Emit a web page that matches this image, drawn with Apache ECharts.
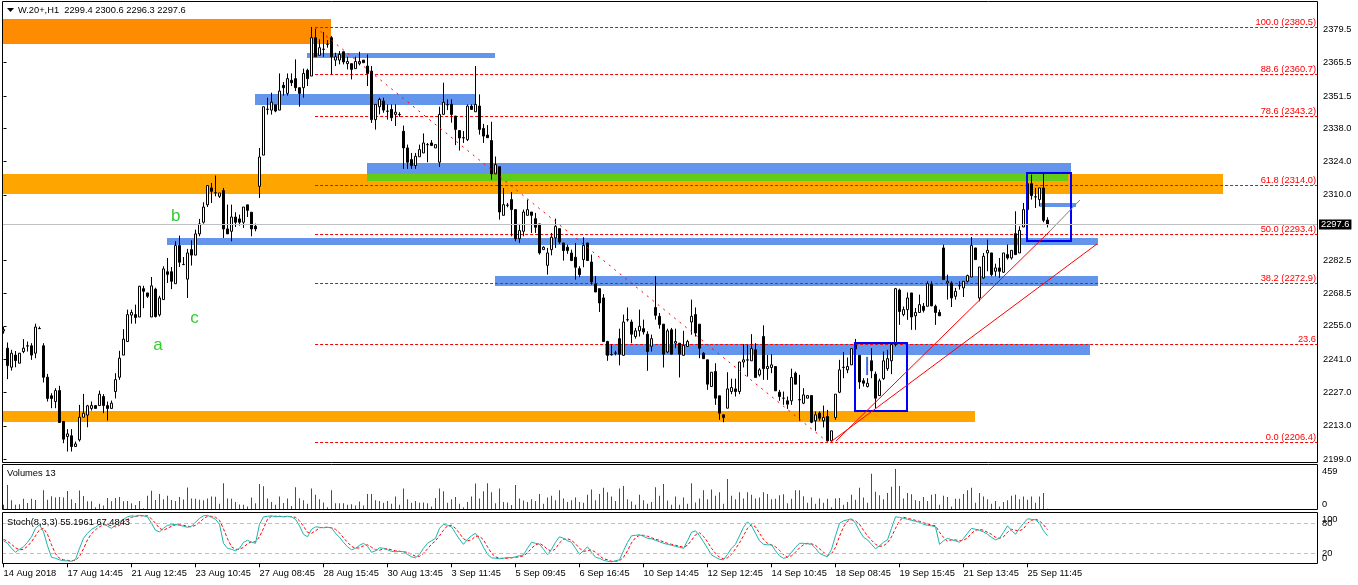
<!DOCTYPE html>
<html><head><meta charset="utf-8">
<script src="https://cdn.jsdelivr.net/npm/echarts@6.0.0/dist/echarts.min.js"></script>
<style>html,body{margin:0;padding:0;background:#fff}#c{width:1358px;height:585px}</style>
</head><body><div id="c"></div>
<script>
// ---------------- DATA ----------------
const symbolName = 'W.20+,H1';
const opens = [
2252.8,2245.6,2237.6,2242.7,2239.3,2244.2,2246.5,2246.6,2243.5,2253.9,
2246.6,2233.4,2225.6,2223.2,2227.8,2214.8,2208.5,2208.8,2204.3,2207.1,
2216.6,2217.5,2220.3,2221.5,2221.5,2225.3,2221.5,2220.3,2227.4,2233.4,
2242.7,2248.4,2259.5,2259.7,2258.7,2270.6,2268.8,2258.7,2270.4,2259.6,
2266.0,2277.7,2277.7,2272.7,2288.7,2280.7,2274.6,2287.0,2284.7,2293.6,
2298.5,2305.8,2312.9,2310.8,2309.4,2311.8,2295.7,2294.7,2300.7,2299.9,
2298.5,2305.8,2302.7,2296.8,2313.6,2326.7,2345.9,2345.6,2347.8,2345.6,
2356.0,2352.6,2358.1,2358.8,2355.0,2355.0,2362.3,2359.9,2376.0,2368.6,
2371.1,2373.2,2376.0,2366.6,2366.6,2370.1,2365.1,2365.1,2363.0,2365.1,
2366.6,2364.1,2362.0,2341.6,2347.0,2349.4,2345.2,2345.9,2343.8,2343.7,
2336.7,2329.7,2324.8,2322.3,2326.0,2327.6,2331.1,2331.8,2329.7,2323.7,
2343.8,2347.8,2348.0,2343.1,2337.0,2334.0,2333.2,2347.3,2344.9,2347.3,
2337.9,2335.1,2332.8,2318.8,2321.8,2301.4,2305.6,2308.0,2303.8,2291.6,
2294.7,2301.4,2302.8,2300.0,2297.8,2287.0,2280.4,2287.0,2291.9,2295.8,
2289.8,2288.0,2285.6,2283.8,2279.0,2282.8,2289.8,2281.8,2272.6,2270.6,
2266.7,2248.4,2242.8,2243.5,2249.6,2242.6,2257.5,2256.6,2250.5,2252.9,
2253.8,2251.5,2246.4,2262.7,2259.0,2255.7,2244.0,2253.3,2247.7,2247.7,
2242.6,2246.3,2256.6,2259.7,2255.7,2243.5,2240.7,2229.5,2235.8,2225.6,
2217.6,2220.4,2227.4,2228.5,2227.4,2239.8,2240.6,2240.3,2244.9,2234.4,
2250.5,2237.0,2237.5,2237.9,2227.1,2224.6,2223.5,2223.5,2235.1,2223.9,
2222.5,2224.6,2225.7,2215.1,2218.3,2215.1,2216.9,2206.7,2216.5,2227.1,
2237.5,2236.5,2238.6,2245.3,2242.6,2231.9,2229.5,2240.3,2234.7,2225.7,
2232.8,2237.0,2240.3,2247.1,2270.0,2259.7,2261.8,2268.8,2259.2,2260.6,
2263.2,2263.2,2272.3,2263.2,2260.6,2287.7,2273.0,2273.0,2267.4,2271.8,
2270.9,2273.7,2275.5,2287.7,2266.7,2275.1,2285.6,2285.6,2277.9,2279.3,
2277.5,2284.9,2283.5,2293.7,2285.6,2296.5,2303.8,2314.7,2309.1,2308.0,
2312.9,2299.4];
const highs = [
2254.5,2248.0,2244.9,2244.4,2243.5,2249.4,2248.4,2247.7,2255.9,2254.7,
2247.7,2234.8,2226.7,2228.8,2229.8,2214.8,2211.6,2211.6,2206.4,2221.8,
2226.4,2221.8,2223.2,2221.5,2227.8,2226.3,2223.2,2223.6,2235.1,2244.5,
2253.6,2261.8,2261.8,2263.9,2271.8,2271.8,2268.8,2275.5,2271.0,2267.6,
2280.0,2283.5,2279.7,2290.5,2292.9,2283.9,2287.3,2290.9,2295.4,2299.9,
2306.9,2313.9,2315.0,2318.1,2310.8,2312.9,2305.9,2305.9,2302.7,2301.7,
2304.9,2305.8,2302.7,2297.9,2329.7,2347.0,2350.8,2352.9,2347.8,2361.0,
2357.4,2361.0,2361.0,2366.9,2355.0,2363.0,2363.0,2380.5,2379.8,2375.3,
2378.4,2375.0,2376.7,2369.7,2370.4,2370.1,2368.0,2365.1,2368.0,2370.1,
2366.6,2369.0,2364.1,2348.0,2350.8,2350.8,2348.0,2348.0,2348.0,2344.7,
2339.1,2331.1,2327.6,2327.6,2331.1,2335.8,2331.8,2333.0,2331.1,2347.0,
2357.1,2350.1,2350.1,2343.1,2337.0,2336.8,2348.0,2348.0,2364.1,2352.2,
2339.8,2339.3,2340.7,2326.1,2321.8,2312.9,2306.6,2311.2,2303.8,2297.8,
2303.8,2308.0,2302.8,2302.4,2297.8,2288.4,2287.7,2294.0,2300.0,2295.8,
2289.8,2289.1,2287.0,2289.8,2280.0,2292.2,2289.8,2284.9,2275.8,2270.6,
2268.3,2248.7,2247.3,2244.5,2253.8,2259.7,2262.7,2257.6,2254.1,2261.8,
2257.6,2252.7,2251.3,2275.8,2260.4,2255.7,2253.8,2254.1,2253.8,2247.7,
2252.9,2249.1,2266.0,2262.7,2255.7,2244.0,2240.7,2235.5,2239.3,2225.6,
2217.6,2235.5,2232.8,2232.8,2239.8,2247.3,2247.0,2251.5,2247.7,2237.2,
2255.2,2242.8,2243.1,2237.9,2228.1,2227.4,2225.3,2237.0,2235.8,2234.4,
2228.8,2225.7,2225.7,2219.0,2219.0,2221.5,2219.7,2210.9,2226.3,2240.7,
2244.0,2241.7,2245.4,2249.5,2242.6,2233.0,2233.0,2245.6,2235.8,2232.8,
2244.2,2244.9,2248.2,2270.9,2270.6,2263.1,2269.0,2268.8,2262.5,2268.1,
2264.6,2273.7,2273.7,2263.9,2261.8,2289.1,2276.5,2273.7,2270.9,2273.7,
2273.7,2276.5,2292.3,2287.7,2279.7,2285.6,2291.2,2285.6,2281.1,2283.5,
2285.6,2289.1,2286.7,2303.1,2296.8,2306.6,2319.2,2318.5,2312.9,2312.9,
2319.0,2300.6];
const lows = [
2251.7,2232.6,2236.2,2237.6,2239.3,2243.5,2244.2,2240.7,2241.4,2253.7,
2231.2,2223.2,2220.4,2220.4,2214.4,2205.7,2202.2,2202.2,2204.3,2206.4,
2216.6,2212.4,2219.4,2220.3,2221.5,2218.3,2215.2,2220.3,2224.5,2232.3,
2242.7,2248.4,2255.9,2255.9,2258.7,2262.4,2266.7,2258.7,2258.5,2258.9,
2266.0,2273.0,2270.4,2272.7,2279.7,2280.5,2266.7,2280.3,2284.7,2292.6,
2297.9,2304.9,2306.6,2309.4,2308.7,2291.9,2293.6,2290.5,2296.5,2297.1,
2296.1,2300.7,2292.6,2294.7,2308.7,2326.7,2343.7,2343.7,2344.7,2345.6,
2351.7,2351.7,2355.7,2353.6,2347.0,2350.8,2355.7,2359.9,2368.0,2368.6,
2368.0,2371.8,2360.6,2364.1,2364.8,2364.8,2362.7,2358.5,2363.0,2364.4,
2365.5,2355.7,2340.2,2337.4,2343.8,2344.5,2341.6,2341.0,2338.9,2342.8,
2320.9,2320.9,2320.9,2320.9,2326.0,2327.6,2323.7,2330.7,2329.7,2321.7,
2343.8,2345.6,2340.3,2330.9,2328.6,2331.8,2332.6,2345.9,2344.9,2335.3,
2331.8,2334.0,2316.4,2318.8,2299.6,2301.4,2304.8,2292.6,2290.5,2289.8,
2292.6,2301.4,2294.0,2294.0,2284.9,2287.0,2276.5,2284.6,2287.7,2289.4,
2282.4,2285.2,2282.4,2274.4,2275.4,2279.6,2282.4,2272.3,2269.2,2260.8,
2248.4,2240.3,2242.6,2242.6,2238.4,2242.6,2256.8,2247.7,2249.6,2250.5,
2251.3,2236.1,2244.2,2257.6,2253.8,2237.5,2243.5,2243.1,2245.6,2233.3,
2242.6,2246.3,2251.3,2250.5,2241.4,2241.2,2228.1,2229.5,2221.8,2215.5,
2214.5,2220.4,2226.3,2225.3,2226.3,2237.5,2233.7,2240.3,2233.3,2233.7,
2232.3,2232.3,2235.1,2227.7,2223.5,2221.8,2220.1,2221.8,2230.5,2215.1,
2222.1,2224.6,2214.1,2210.9,2215.1,2212.3,2206.4,2206.4,2215.5,2226.7,
2233.0,2235.1,2238.6,2243.0,2228.5,2229.5,2229.1,2233.0,2220.4,2225.7,
2232.3,2236.1,2234.7,2246.3,2255.4,2259.0,2257.5,2253.3,2253.3,2260.6,
2260.6,2263.2,2263.2,2255.4,2259.2,2274.4,2266.0,2262.9,2266.0,2270.2,
2267.1,2273.2,2275.5,2282.8,2265.3,2274.7,2277.9,2275.8,2275.8,2275.1,
2277.2,2282.8,2282.8,2284.9,2285.6,2296.5,2303.8,2308.0,2304.5,2305.2,
2298.5,2296.3];
const closes = [
2253.4,2238.3,2243.5,2240.4,2243.5,2245.6,2246.6,2242.7,2254.5,2253.8,
2233.4,2224.5,2224.5,2227.8,2214.4,2207.4,2209.6,2204.3,2205.4,2216.6,
2218.3,2221.4,2221.5,2220.3,2226.3,2221.5,2220.3,2222.5,2232.4,2241.4,
2249.4,2259.7,2260.6,2258.5,2271.6,2269.5,2267.4,2271.8,2258.9,2266.7,
2278.9,2276.6,2273.7,2288.7,2281.7,2280.8,2285.6,2284.7,2293.6,2297.8,
2304.9,2313.9,2311.5,2310.9,2310.8,2295.7,2293.6,2300.7,2298.5,2298.5,
2304.9,2303.5,2295.7,2295.7,2325.9,2347.0,2346.0,2348.9,2345.2,2353.6,
2355.0,2358.8,2357.1,2355.0,2352.6,2361.0,2358.8,2376.0,2368.0,2371.8,
2371.2,2373.3,2368.0,2368.0,2369.0,2365.8,2366.0,2362.7,2366.0,2366.0,
2365.5,2361.0,2341.6,2348.0,2350.1,2345.6,2345.1,2342.4,2344.7,2343.8,
2329.7,2323.7,2322.3,2326.2,2329.0,2331.8,2331.1,2330.7,2331.1,2343.8,
2348.9,2347.9,2343.8,2337.5,2333.9,2333.9,2347.3,2345.9,2348.0,2337.5,
2334.7,2334.0,2318.8,2322.7,2302.8,2305.9,2305.7,2303.8,2291.6,2295.0,
2302.8,2303.8,2301.4,2296.4,2285.6,2288.0,2285.6,2292.2,2296.8,2290.2,
2286.6,2286.6,2282.4,2279.6,2276.5,2288.8,2282.4,2273.4,2269.2,2264.6,
2248.4,2242.6,2242.9,2243.6,2243.1,2256.6,2257.6,2251.5,2252.9,2254.8,
2252.4,2244.2,2249.6,2259.4,2255.5,2243.1,2252.9,2243.1,2248.4,2243.1,
2246.8,2248.4,2259.0,2252.0,2245.6,2241.2,2230.5,2235.5,2224.6,2218.3,
2216.5,2228.5,2229.1,2227.4,2239.8,2240.7,2240.7,2245.4,2233.3,2236.5,
2237.0,2237.9,2238.6,2227.7,2225.3,2224.6,2222.1,2233.3,2230.5,2224.0,
2226.0,2225.7,2214.5,2217.6,2216.2,2216.5,2206.7,2210.9,2226.3,2236.5,
2237.6,2237.9,2245.4,2247.0,2231.4,2230.9,2230.9,2236.1,2224.6,2231.9,
2240.3,2241.2,2247.1,2270.6,2261.0,2261.8,2266.7,2258.7,2260.6,2263.9,
2261.5,2272.7,2263.4,2260.6,2259.2,2274.4,2273.7,2266.7,2269.5,2271.9,
2273.7,2276.1,2288.7,2282.8,2279.7,2284.2,2286.7,2276.5,2279.3,2277.9,
2285.6,2283.5,2286.7,2284.9,2295.1,2303.8,2314.7,2309.7,2309.2,2312.9,
2299.3,2297.6];
const volumes = [
60,279,108,59,63,127,78,127,112,8,
222,116,154,139,146,140,214,120,78,218,
158,97,97,32,70,51,135,97,135,146,
97,100,75,55,100,20,160,215,112,180,
120,160,112,102,145,118,252,128,125,115,
110,130,150,148,70,300,130,125,90,62,
60,40,140,75,290,265,130,90,60,150,
78,130,45,256,132,110,70,241,170,120,
85,30,222,75,75,75,60,65,50,95,
50,180,180,110,100,80,100,70,150,60,
240,120,82,100,80,85,75,40,135,241,
210,80,120,145,70,30,90,150,298,130,
210,300,200,75,240,90,85,55,280,130,
105,90,120,100,180,70,140,160,110,220,
130,90,110,140,90,80,170,230,110,180,
250,200,150,100,240,270,120,95,60,170,
110,70,90,255,160,290,105,60,150,60,
140,70,300,85,130,220,120,230,160,200,
70,347,160,120,200,130,200,170,130,140,
200,180,120,125,165,175,75,125,220,220,
155,80,140,70,130,80,125,30,130,135,
60,90,170,115,250,140,80,405,205,165,
120,190,260,459,268,130,190,175,110,100,
145,100,170,180,60,160,145,40,125,125,
180,220,250,80,190,150,120,70,100,40,
90,110,160,170,120,150,115,150,80,150,
190,13];
const stochK = [
45,40,30,22,28,33,42,53,70,77,
63,35,12,10,7,5,5,4,8,30,
50,60,68,72,78,80,74,70,76,83,
88,93,95,94,96,95,93,80,66,63,
70,76,77,78,76,74,72,74,82,90,
95,96,92,88,78,40,30,28,25,30,
42,46,42,40,78,93,94,95,93,94,
93,94,93,88,75,58,53,68,73,72,
71,72,71,60,52,42,33,27,30,36,
40,34,22,25,31,30,27,24,23,24,
23,18,13,11,18,30,40,45,50,70,
78,76,73,60,48,38,48,55,60,48,
32,18,11,10,9,10,12,11,13,15,
17,30,42,40,38,28,17,28,42,53,
50,45,42,30,18,25,33,22,12,10,
6,4,3,5,7,25,42,55,56,57,
54,50,49,46,43,40,38,36,34,32,
30,45,62,65,55,43,30,17,12,8,
7,18,30,38,55,72,83,75,60,45,
38,37,37,25,15,10,12,22,32,40,
40,39,38,30,20,16,13,28,55,80,
85,87,89,80,65,52,47,38,29,35,
42,47,70,93,92,90,88,86,84,82,
78,76,75,73,38,45,50,47,45,42,
50,60,70,68,66,63,58,52,47,50,
62,75,66,58,70,80,89,88,87,80,
65,55.1961];
const stochD = [
48,44,38,31,27,28,34,43,55,67,
70,58,37,19,10,7,6,5,6,14,
29,47,59,67,73,77,77,75,73,76,
82,88,92,94,95,95,95,89,80,70,
66,70,74,77,77,76,74,73,76,82,
89,94,94,92,86,69,49,33,28,28,
32,39,43,43,53,70,88,94,94,94,
93,94,93,92,85,74,62,60,65,71,
72,72,71,68,61,51,42,34,30,31,
35,37,32,27,26,29,29,27,25,24,
23,22,18,14,14,20,29,38,45,55,
66,75,76,70,60,49,45,47,54,54,
47,33,20,13,10,10,10,11,12,13,
15,21,30,37,40,35,28,24,29,41,
48,49,46,39,30,24,25,27,22,15,
9,7,4,4,5,12,25,41,51,56,
56,54,51,48,46,43,40,38,36,34,
32,36,46,57,61,54,43,30,20,12,
9,11,18,29,41,55,70,77,73,60,
48,40,37,33,26,17,12,15,22,31,
37,40,39,36,29,22,16,19,32,54,
73,84,87,85,78,66,55,46,38,34,
35,41,53,70,85,92,90,88,86,84,
81,79,76,75,62,52,44,47,47,45,
46,51,60,66,68,66,62,58,52,50,
53,62,68,66,65,69,80,86,88,85,
77,67.4843];
const stochParams = '8,3,3';

const tickBars = [0,16,32,48,64,80,96,112,128,144,160,176,192,208,224,240,256];
const tickLabels = ['14 Aug 2018','17 Aug 14:45','21 Aug 12:45','23 Aug 10:45','27 Aug 08:45','28 Aug 15:45','30 Aug 13:45','3 Sep 11:45','5 Sep 09:45','6 Sep 16:45','10 Sep 14:45','12 Sep 12:45','14 Sep 10:45','18 Sep 08:45','19 Sep 15:45','21 Sep 13:45','25 Sep 11:45'];
const priceTicks = [2379.5,2365.5,2351.5,2338.0,2324.0,2310.0,2282.5,2268.5,2255.0,2241.0,2227.0,2213.0,2199.0];
const volumeTicks = [0,459];
const stochEdgeTicks = [0,100];
const stochLevelTicks = [20,80];

// Fibonacci retracement
const fibPrices = [2380.5,2360.7,2343.2,2314.0,2293.4,2272.9,2247.5,2206.4];
const fibTexts = ['100.0 (2380.5)','88.6 (2360.7)','78.6 (2343.2)','61.8 (2314.0)','50.0 (2293.4)','38.2 (2272.9)','23.6','0.0 (2206.4)'];
const fibStartBar = 77.9;

// Zones: bar start, bar end, price top, price bottom, kind
const zoneStart  = [-0.375,-0.375,-0.375,75.8,62.9,90.8,90.8,40.9,122.9,150.4,259.1];
const zoneEnd    = [81.8,304.8,242.9,122.9,117.8,266.9,266.1,273.6,273.6,271.6,268.1];
const zoneTop    = [2383.9,2318.8,2219.35,2369.45,2352.4,2323.5,2318.8,2291.8,2275.9,2247.5,2306.7];
const zoneBottom = [2373.4,2310.4,2214.7,2367.5,2347.7,2318.8,2316.0,2288.9,2271.85,2242.75,2304.8];
const zoneKind   = ['dark','orange','orange','blue','blue','blue','green','blue','blue','blue','blue'];

// Outlined boxes: bar start, bar end, price top, price bottom
const boxStart = [212.9,255.9];
const boxEnd   = [225.9,266.9];
const boxTop   = [2247.7,2319.3];
const boxBottom= [2219.35,2290.6];

// Lines: x1 bar, p1, x2 bar, p2, kind
const lineX1 = [77.9,208.1,207.1,261.6,215.9];
const lineP1 = [2380.5,2206.6,2206.6,2294.8,2242.0];
const lineX2 = [205.9,261.6,273.4,269.1,215.9];
const lineP2 = [2206.4,2294.8,2289.4,2307.8,2234.3];
const lineKind = ['fibdiag','red','red','gray','blue'];

// Wave labels
const waveText = ['b','c','a'];
const waveBar  = [43.05,47.75,38.6];
const wavePrice= [2301.1,2258.3,2246.9];

// ---------------- STYLE / LAYOUT ----------------
const FONT = 'Liberation Sans';
const FS = 9.3;
const xMin = -0.375, xMax = 328.375;
const yMin = 2197.8, yMax = 2391.0;
const zoneColor = {dark:'#FF8C00', orange:'#FFA500', blue:'#6495ED', green:'#62CD18'};
const lineStyles = {
  fibdiag:{stroke:'#FF0000', lineWidth:1, lineDash:[2,5]},
  red:{stroke:'#FF0000', lineWidth:1},
  gray:{stroke:'#808080', lineWidth:1},
  blue:{stroke:'#4169E1', lineWidth:2}
};
const last = closes.length - 1;

const chart = echarts.init(document.getElementById('c'));

const xAxes = [0,1,2].map(g => ({
  type:'value', gridIndex:g, min:xMin, max:xMax, show: g === 2,
  axisLine:{show:false},
  axisTick:{show:true, customValues:tickBars, length:4, lineStyle:{color:'#000'}},
  axisLabel:{show:true, customValues:tickBars, align:'left', margin:5, color:'#000', fontSize:FS, fontFamily:FONT, hideOverlap:false,
    showMinLabel:true, showMaxLabel:true,
    formatter: v => tickLabels[tickBars.indexOf(Math.round(v))] || ''},
  splitLine:{show:false}
}));

const labelBase = {fontSize:FS, fontFamily:FONT, color:'#000'};
const yAxes = [
  {type:'value', gridIndex:0, position:'right', min:yMin, max:yMax,
   axisLine:{show:false},
   axisTick:{show:true, customValues:priceTicks, length:3, lineStyle:{color:'#000'}},
   axisLabel:{customValues:priceTicks, formatter: v => v.toFixed(1), margin:6, color:'#000', fontSize:FS, fontFamily:FONT, hideOverlap:false, showMinLabel:true, showMaxLabel:true},
   splitLine:{show:false}},
  {type:'value', gridIndex:1, position:'right', min:0, max:515,
   axisLine:{show:false}, axisTick:{show:false},
   axisLabel:{customValues:volumeTicks, margin:5, color:'#000', fontSize:FS, fontFamily:FONT, hideOverlap:false, showMinLabel:true, showMaxLabel:true,
     formatter: v => v === 0 ? '{lo|0}' : '{n|' + v + '}',
     rich:{lo:Object.assign({padding:[0,0,12,0]}, labelBase), n:Object.assign({padding:[5,0,0,0]}, labelBase)}},
   splitLine:{show:false}},
  {type:'value', gridIndex:2, position:'right', min:-1.4, max:102.6,
   axisLine:{show:false}, axisTick:{show:false},
   axisLabel:{customValues:stochEdgeTicks, margin:5, color:'#000', fontSize:FS, fontFamily:FONT, hideOverlap:false, showMinLabel:true, showMaxLabel:true,
     formatter: v => v === 100 ? '{hi|100}' : '{lo|0}',
     rich:{hi:Object.assign({padding:[12,0,0,0]}, labelBase), lo:Object.assign({padding:[0,0,10,0]}, labelBase)}},
   splitLine:{show:false}},
  {type:'value', gridIndex:2, position:'right', min:-1.4, max:102.6,
   axisLine:{show:false}, axisTick:{show:false},
   axisLabel:{customValues:stochLevelTicks, margin:5, color:'#000', fontSize:FS, fontFamily:FONT, hideOverlap:false, showMinLabel:true, showMaxLabel:true,
     formatter: v => String(v)},
   splitLine:{show:false}}
];

const series = [];

// zones
series.push({
  type:'custom', xAxisIndex:0, yAxisIndex:0, z:1, silent:true,
  data: zoneStart.map((s,i) => [s, zoneTop[i], zoneEnd[i], zoneBottom[i]]),
  encode:{x:[0,2], y:[1,3]},
  renderItem:(params, api) => {
    const a = api.coord([api.value(0), api.value(1)]);
    const b = api.coord([api.value(2), api.value(3)]);
    const x1 = Math.round(a[0]), y1 = Math.round(a[1]), x2 = Math.round(b[0]), y2 = Math.round(b[1]);
    return {type:'rect', shape:{x:x1, y:y1, width:x2-x1, height:y2-y1}, style:{fill: zoneColor[zoneKind[params.dataIndex]]}};
  }
});

// current price line
series.push({
  type:'line', xAxisIndex:0, yAxisIndex:0, z:2, silent:true, showSymbol:false,
  data:[[0, closes[last]]], lineStyle:{opacity:0},
  markLine:{silent:true, symbol:['none','none'], animation:false,
    lineStyle:{color:'#C0C0C0', width:1, type:'solid'},
    label:{show:true, position:'end', distance:2, formatter: closes[last].toFixed(1), color:'#fff', backgroundColor:'#000', padding:[1,2,0,2], fontSize:FS, fontFamily:FONT},
    data:[{yAxis: closes[last]}]}
});

// fibonacci levels
series.push({
  type:'custom', xAxisIndex:0, yAxisIndex:0, z:2, silent:true,
  data: fibPrices.map(p => [fibStartBar, p]),
  renderItem:(params, api) => {
    const a = api.coord([fibStartBar, api.value(1)]);
    const b = api.coord([xMax, api.value(1)]);
    const y = Math.round(a[1]) + 0.5;
    return {type:'group', children:[
      {type:'line', shape:{x1:a[0], y1:y, x2:b[0], y2:y}, style:{stroke:'#FF0000', lineWidth:1, lineDash:[3,2]}},
      {type:'text', x:b[0]-1, y:y-0.5, style:{text:fibTexts[params.dataIndex], fill:'#FF0000', fontSize:FS, fontFamily:FONT, align:'right', verticalAlign:'bottom'}}
    ]};
  }
});

// candles
series.push({
  type:'candlestick', xAxisIndex:0, yAxisIndex:0, z:3, silent:true, barWidth:2,
  data: opens.map((o,i) => [i, o, closes[i], lows[i], highs[i]]),
  itemStyle:{color:'#FFFFFF', color0:'#000000', borderColor:'#000000', borderColor0:'#000000', borderColorDoji:'#000000', borderWidth:1}
});

// outlined boxes
series.push({
  type:'custom', xAxisIndex:0, yAxisIndex:0, z:4, silent:true,
  data: boxStart.map((s,i) => [s, boxTop[i], boxEnd[i], boxBottom[i]]),
  encode:{x:[0,2], y:[1,3]},
  renderItem:(params, api) => {
    const a = api.coord([api.value(0), api.value(1)]);
    const b = api.coord([api.value(2), api.value(3)]);
    const x1 = Math.round(a[0]), y1 = Math.round(a[1]), x2 = Math.round(b[0]), y2 = Math.round(b[1]);
    return {type:'rect', shape:{x:x1, y:y1, width:x2-x1, height:y2-y1}, style:{fill:'none', stroke:'#0000FF', lineWidth:2}};
  }
});

// lines
series.push({
  type:'custom', xAxisIndex:0, yAxisIndex:0, z:4, silent:true,
  data: lineX1.map((x,i) => [x, lineP1[i], lineX2[i], lineP2[i]]),
  encode:{x:[0,2], y:[1,3]},
  renderItem:(params, api) => {
    const a = api.coord([api.value(0), api.value(1)]);
    const b = api.coord([api.value(2), api.value(3)]);
    return {type:'line', shape:{x1:a[0], y1:a[1], x2:b[0], y2:b[1]}, style: Object.assign({}, lineStyles[lineKind[params.dataIndex]])};
  }
});

// wave letters
series.push({
  type:'custom', xAxisIndex:0, yAxisIndex:0, z:5, silent:true,
  data: waveBar.map((x,i) => [x, wavePrice[i]]),
  renderItem:(params, api) => {
    const a = api.coord([api.value(0), api.value(1)]);
    return {type:'text', x:a[0], y:a[1], style:{text:waveText[params.dataIndex], fill:'#32CD32', fontSize:17, fontFamily:FONT, align:'center', verticalAlign:'middle'}};
  }
});

// volumes
series.push({
  type:'bar', xAxisIndex:1, yAxisIndex:1, silent:true, barWidth:1,
  data: volumes.map((v,i) => [i, v]),
  itemStyle:{color: p => (p.dataIndex > 0 && volumes[p.dataIndex] > volumes[p.dataIndex-1]) ? '#008000' : '#FF0000'}
});

// stochastic
series.push({
  type:'line', xAxisIndex:2, yAxisIndex:2, silent:true, showSymbol:false, z:3,
  data: stochK.map((v,i) => [i, v]),
  lineStyle:{color:'#20B2AA', width:1},
  markLine:{silent:true, symbol:['none','none'], animation:false, label:{show:false},
    lineStyle:{color:'#C0C0C0', width:1, type:[4,3]},
    data:[{yAxis:20},{yAxis:80}]}
});
series.push({
  type:'line', xAxisIndex:2, yAxisIndex:2, silent:true, showSymbol:false, z:2,
  data: stochD.map((v,i) => [i, v]),
  lineStyle:{color:'#FF0000', width:1, type:[3,2]}
});

const headerText = symbolName + '  ' + [opens[last], highs[last], lows[last], closes[last]].map(v => v.toFixed(1)).join(' ');
const volText = 'Volumes ' + volumes[last];
const stochText = 'Stoch(' + stochParams + ') ' + stochK[last].toFixed(4) + ' ' + stochD[last].toFixed(4);

const frame = (x, y, w, h) => ({type:'rect', z:90, silent:true, shape:{x:x, y:y, width:w, height:h}, style:{fill:'none', stroke:'#000', lineWidth:1}});

chart.setOption({
  animation:false,
  backgroundColor:'#FFFFFF',
  grid:[
    {left:2, top:2, width:1315, height:460, show:false, outerBoundsMode:'none'},
    {left:2, top:464, width:1315, height:46, show:false, outerBoundsMode:'none'},
    {left:2, top:512, width:1315, height:52, show:false, outerBoundsMode:'none'}
  ],
  xAxis: xAxes,
  yAxis: yAxes,
  series: series,
  graphic:[
    frame(2.5, 1.5, 1315, 461),
    frame(2.5, 464.5, 1315, 45),
    frame(2.5, 512.5, 1315, 51),
    {type:'polygon', z:100, shape:{points:[[7,8],[14,8],[10.5,12]]}, style:{fill:'#000'}},
    {type:'text', z:100, x:18, y:10, style:{text:headerText, fill:'#000', fontSize:FS, fontFamily:FONT, verticalAlign:'middle'}},
    {type:'text', z:100, x:7, y:473, style:{text:volText, fill:'#000', fontSize:FS, fontFamily:FONT, verticalAlign:'middle'}},
    {type:'text', z:100, x:7, y:522, style:{text:stochText, fill:'#000', fontSize:FS, fontFamily:FONT, verticalAlign:'middle'}}
  ]
});
</script>
</body></html>
